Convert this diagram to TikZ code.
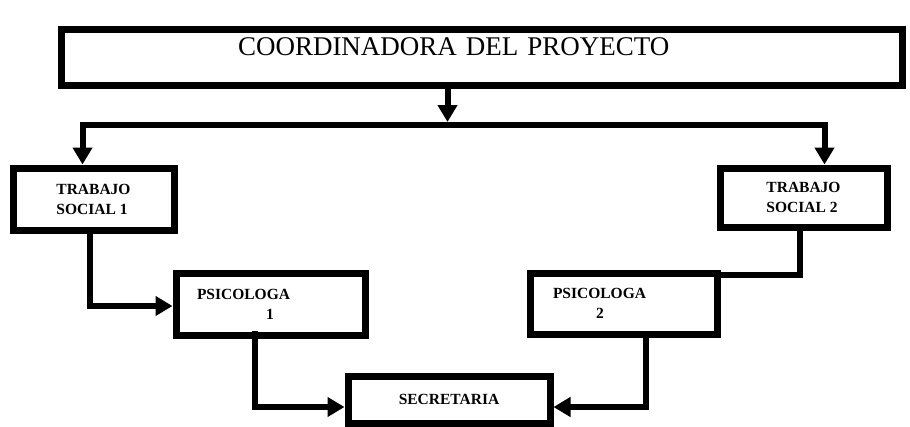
\documentclass[tikz,border=0pt]{standalone}
\usepackage{fontspec}
\setmainfont{Liberation Serif}
\usetikzlibrary{arrows.meta}

\begin{document}
\begin{tikzpicture}[x=1pt,y=-1pt,
  unitbox/.style={draw,line width=7pt,align=left,font=\bfseries\fontsize{15.5}{20}\selectfont},
  conn/.style={line width=6pt},
  >={Triangle[length=17pt,width=19pt]}]
\useasboundingbox (0,0) rectangle (910,426);
% boxes
\node (coord) [draw,line width=7pt,font=\fontsize{27}{32}\selectfont,
  inner xsep=177pt,inner ysep=0pt,text width=487pt,align=left,
  text height=26pt,text depth=30pt] at (481.5,57) {COORDINADORA DEL PROYECTO};
\node (ts1) [unitbox,minimum width=161pt,minimum height=62pt] at (93.5,199) {TRABAJO\\SOCIAL 1};
\node (ts2) [unitbox,minimum width=167pt,minimum height=59pt] at (803.5,197.5) {TRABAJO\\SOCIAL 2};
\node (psi1) [unitbox,inner xsep=21pt,text width=147pt,minimum height=62pt] at (270.5,304) {PSICOLOGA\\\hspace*{69pt}1};
\node (psi2) [unitbox,inner xsep=23pt,text width=141pt,minimum height=61pt] at (623.5,303.5) {PSICOLOGA\\\hspace*{43pt}2};
\node (sec) [unitbox,minimum width=202pt,minimum height=47pt] at (449,399.5) {SECRETARIA};
% connectors
\coordinate (hub) at (447.5,125);
\draw[conn,->] (coord.south -| hub) -- ([yshift=3pt]hub);
\draw[conn,->] (hub) -| ([xshift=-11pt]ts1.north);
\draw[conn,->] (hub) -| ([xshift=21pt]ts2.north);
\draw[conn,->] ([xshift=-4pt]ts1.south) |- ([yshift=-2pt]psi1.west);
\draw[conn] ([xshift=-3.5pt]ts2.south) |- ([yshift=28.5pt]psi2.east);
\draw[conn,->] ([xshift=-15.5pt,yshift=8pt]psi1.south) |- ([yshift=-7.5pt]sec.west);
\draw[conn,->] ([xshift=22.5pt]psi2.south) |- ([yshift=-7.5pt]sec.east);
\end{tikzpicture}
\end{document}
